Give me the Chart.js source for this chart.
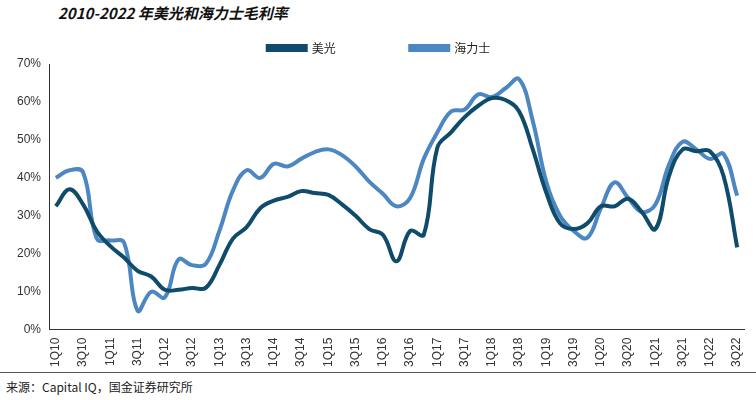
<!DOCTYPE html>
<html><head><meta charset="utf-8">
<script src="https://cdn.jsdelivr.net/npm/chart.js@4"></script>
<style>
body{margin:0;width:756px;height:400px;background:#fff;font-family:"Noto Sans CJK SC",sans-serif;position:relative;overflow:hidden}
#title{position:absolute;left:58px;top:2px;font-size:15px;font-weight:bold;font-style:italic;color:#111}
#wrap{position:absolute;left:0;top:32px;width:756px;height:338px}
#bline{position:absolute;left:0;top:372px;width:756px;border-top:1px solid #555}
#src{position:absolute;left:6px;top:378px;font-size:12px;color:#222}
</style></head><body>
<div id="title">2010-2022 年美光和海力士毛利率</div>
<div id="wrap"><canvas id="c"></canvas></div>
<div id="bline"></div>
<div id="src">来源：Capital IQ，国金证券研究所</div>
<script>
const quarters = [];
for (let y = 10; y <= 22; y++) for (let q = 1; q <= 4; q++) if (!(y === 22 && q === 4)) quarters.push(q + "Q" + y);
const micron = [32.5,37,33,26,22,19,15.5,14,10.5,10.5,11,11,17,24,27,32,34,35,36.5,36,35.5,33,30,26.5,25,18,26,25,48,52,56,59,61,60.5,57.5,47.5,36,28,26.5,28,32.5,32.5,34.5,31,26.5,40.5,47.5,47,47,40.5,21.7];
const hynix = [40,42,41.5,24,23.5,23,5,10,8.5,18.5,17,17.3,26,36.7,42,40,43.7,43,45,46.8,47.5,46,43,39,35.8,32.5,34.7,45,52,57.5,58,62,61.3,63.6,66,55,38.8,30,26,24.2,32,38.8,34.7,31,33,43.5,49.5,47.5,45,46.3,35.3];
const yTicks = [0,10,20,30,40,50,60,70];

new Chart(document.getElementById("c"), {
  type: "line",
  data: {
    labels: quarters,
    datasets: [
      { label: "美光", data: micron, borderColor: "#0f4c6b", backgroundColor: "#0f4c6b", borderWidth: 4, pointRadius: 0, tension: 0.4 },
      { label: "海力士", data: hynix, borderColor: "#4c87c1", backgroundColor: "#4c87c1", borderWidth: 4, pointRadius: 0, tension: 0.4 },
    ],
  },
  options: {
    responsive: true,
    maintainAspectRatio: false,
    animation: false,
    layout: { padding: { left: 14, right: 12, top: 0 } },
    plugins: {
      legend: {
        labels: {
          boxWidth: 38, boxHeight: 4, padding: 10, color: "#222", font: { size: 12, family: "Noto Sans CJK SC" },
          generateLabels: (chart) => Chart.defaults.plugins.legend.labels.generateLabels(chart).map((l, i) => {
            if (i === 0) l.text = l.text + "                        ";
            return l;
          }),
        },
      },
      tooltip: { enabled: false },
    },
    scales: {
      x: {
        offset: true,
        grid: { display: false, drawTicks: true, tickLength: 5, color: "#333" },
        border: { color: "#333" },
        ticks: {
          autoSkip: false, maxRotation: 90, minRotation: 90, color: "#333",
          font: { size: 12, family: "Liberation Sans" },
          callback: function (v, i) { return i % 2 === 0 ? quarters[i] : ""; },
        },
      },
      y: {
        min: 0, max: 70,
        afterBuildTicks: (s) => { s.ticks = yTicks.map((v) => ({ value: v })); },
        grid: { display: false, drawTicks: true, tickLength: 5, color: "#333" },
        border: { color: "#333" },
        ticks: { color: "#333", font: { size: 12, family: "Liberation Sans" }, callback: (v) => v + "%" },
      },
    },
  },
});
</script>
</body></html>
